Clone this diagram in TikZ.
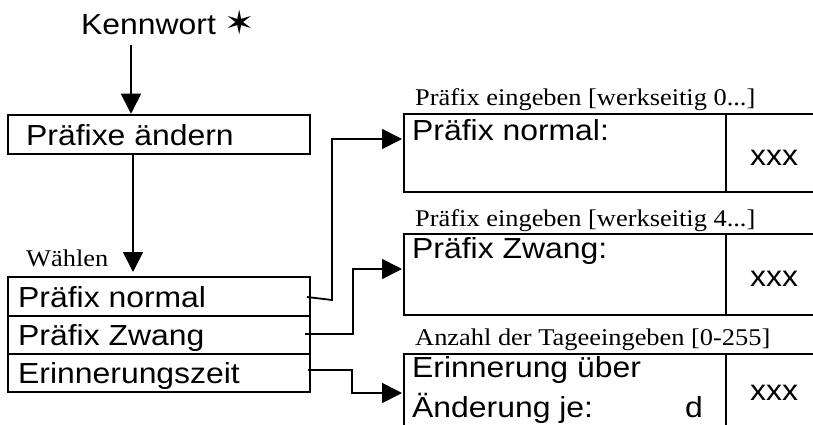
\documentclass[tikz,border=0pt]{standalone}
\usepackage{fontspec}
\setmainfont{Liberation Serif}[FakeStretch=1.1]
\newfontfamily\sansf{Liberation Sans}[FakeStretch=1.1]
\newfontfamily\symf{DejaVu Sans}[FakeStretch=1.1]
\usetikzlibrary{arrows.meta,calc}
\begin{document}
\begin{tikzpicture}[x=1pt,y=-1pt,
  box/.style={draw,line width=2.5pt,inner sep=0pt},
  sans/.style={font=\sansf\fontsize{29}{31}\selectfont, inner sep=0pt, anchor=base west},
  serif/.style={font=\fontsize{24}{26}\selectfont, inner sep=0pt, anchor=base west},
  arr/.style={line width=1.8pt,-{Triangle[length=20pt,width=20pt]}}]
\useasboundingbox (0,0) rectangle (813,425);
\clip (0,0) rectangle (813,425);

% top
\node[sans] (kw) at (81,35) {Kennwort {\symf\fontsize{33}{35}\selectfont ✶}};
\node[box, minimum width=302, minimum height=39] (pa) at (159,134.5) {};
\node[sans] (pat) at (26,145) {Präfixe ändern};
\coordinate (a1s) at (131,45);
\draw[arr] (a1s) -- (pa.north -| a1s);
\coordinate (a2s) at (133,154);
\coordinate (a2e) at (133,272);
\draw[arr] (a2s) -- (a2e);
\node[serif] (wl) at (26,266) {Wählen};

% list
\node[box, minimum width=302, minimum height=39] (r1) at (159,296.5) {};
\node[box, minimum width=302, minimum height=38] (r2) at (159,335) {};
\node[box, minimum width=302, minimum height=38] (r3) at (159,373) {};
\node[sans] (r1t) at (18,307) {Präfix normal};
\node[sans] (r2t) at (18,345) {Präfix Zwang};
\node[sans] (r3t) at (18,383) {Erinnerungszeit};

% right boxes
\node[box, minimum width=322, minimum height=78] (b1l) at (565,153) {};
\node[box, minimum width=104, minimum height=78] (b1r) at (778,153) {};
\node[box, minimum width=322, minimum height=81] (b2l) at (565,274.5) {};
\node[box, minimum width=104, minimum height=81] (b2r) at (778,274.5) {};
\node[box, minimum width=322, minimum height=96] (b3l) at (565,402) {};
\node[box, minimum width=104, minimum height=96] (b3r) at (778,402) {};

\node[serif] (l1) at (415,106) {Präfix eingeben [werkseitig 0...]};
\node[serif] (l2) at (415,226) {Präfix eingeben [werkseitig 4...]};
\node[serif] (l3) at (415,345) {Anzahl der Tageeingeben [0-255]};

\node[sans] (t1) at (412,140) {Präfix normal:};
\node[sans] (x1) at (750,165) {xxx};
\node[sans] (t2) at (412,258) {Präfix Zwang:};
\node[sans] (x2) at (750,286) {xxx};
\node[sans] (t3) at (412,377) {Erinnerung über};
\node[sans] (t4) at (412,417) {Änderung je:};
\node[sans] (t5) at (685,417) {d};
\node[sans] (x3) at (750,400) {xxx};

% connectors
\coordinate (c1a) at (307,297);
\coordinate (c1b) at (332,300);
\coordinate (c1t) at (402,139);
\draw[arr] (c1a) -- (c1b) -- (c1b |- c1t) -- (c1t);
\coordinate (c2a) at (305,334);
\coordinate (c2b) at (353,334);
\coordinate (c2t) at (402,269);
\draw[arr] (c2a) -- (c2b) -- (c2b |- c2t) -- (c2t);
\coordinate (c3a) at (308,370);
\coordinate (c3b) at (352,370);
\coordinate (c3t) at (402,393);
\draw[arr] (c3a) -- (c3b) -- (c3b |- c3t) -- (c3t);
\end{tikzpicture}
\end{document}
